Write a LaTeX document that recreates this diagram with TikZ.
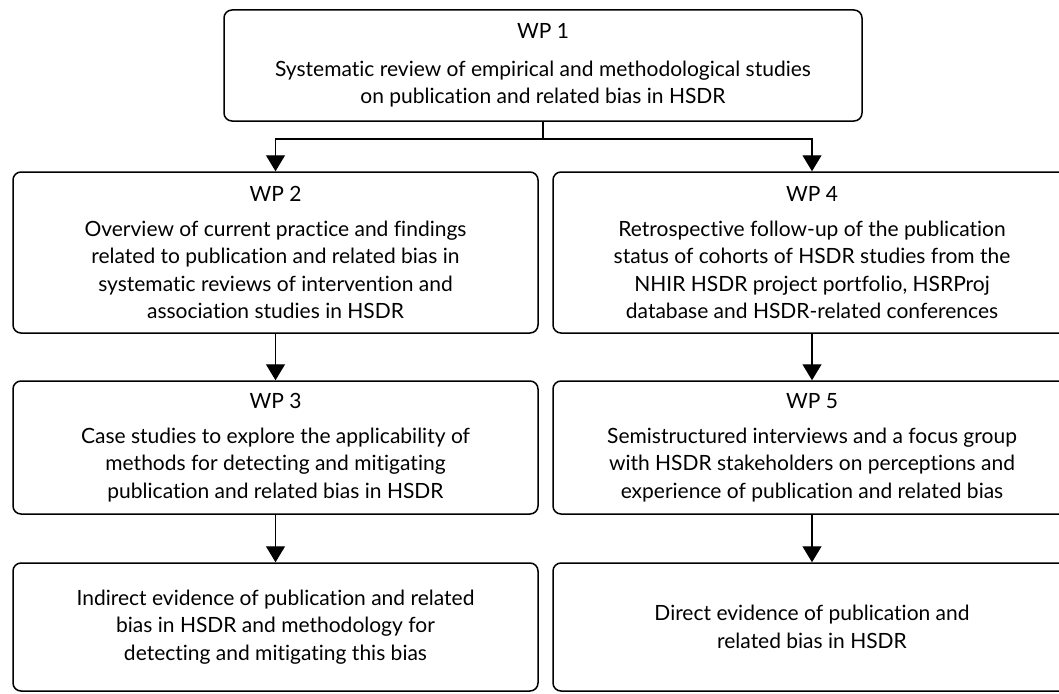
\documentclass[tikz,border=0pt]{standalone}
\usepackage{fontspec}
\setmainfont{Lato}[Ligatures={NoCommon}]
\usetikzlibrary{arrows.meta}
\begin{document}
\begin{tikzpicture}[x=1pt,y=-1pt,
  wpbox/.style={draw, line width=1.5pt, rounded corners=8pt, inner sep=0pt, align=center,
    font=\fontsize{21pt}{27.5pt}\selectfont},
  flow/.style={line width=1.3pt, -{Triangle[width=19pt,length=16pt]}},
  link/.style={line width=1.3pt}]
\clip (0,0) rectangle (1059,693);
\node[wpbox, minimum width=638pt, minimum height=111pt] (wp1) at (543,65.5)
  {WP 1\\[10pt]Systematic review of empirical and methodological studies\\on publication and related bias in HSDR};
\node[wpbox, minimum width=525pt, minimum height=161pt] (wp2) at (275.5,252.5)
  {WP 2\\[7.5pt]Overview of current practice and findings\\related to publication and related bias in\\systematic reviews of intervention and\\association studies in HSDR};
\node[wpbox, minimum width=518pt, minimum height=161pt] (wp4) at (812,252.5)
  {WP 4\\[7.5pt]Retrospective follow-up of the publication\\status of cohorts of HSDR studies from the\\NHIR HSDR project portfolio, HSRProj\\database and HSDR-related conferences};
\node[wpbox, minimum width=525pt, minimum height=133pt] (wp3) at (275.5,447.5)
  {WP 3\\[7.5pt]Case studies to explore the applicability of\\methods for detecting and mitigating\\publication and related bias in HSDR};
\node[wpbox, minimum width=518pt, minimum height=133pt] (wp5) at (812,447.5)
  {WP 5\\[7.5pt]Semistructured interviews and a focus group\\with HSDR stakeholders on perceptions and\\experience of publication and related bias};
\node[wpbox, minimum width=525pt, minimum height=128pt] (out1) at (275.5,627)
  {Indirect evidence of publication and related\\bias in HSDR and methodology for\\detecting and mitigating this bias};
\node[wpbox, minimum width=518pt, minimum height=128pt] (out2) at (812,627)
  {Direct evidence of publication and\\related bias in HSDR};
\coordinate (split) at (543,139);
\draw[link] (wp1.south) -- (split);
\draw[flow] (split) -| (wp2.north);
\draw[flow] (split) -| (wp4.north);
\draw[flow] (wp2.south) -- (wp3.north);
\draw[flow] (wp4.south) -- (wp5.north);
\draw[flow] (wp3.south) -- (out1.north);
\draw[flow] (wp5.south) -- (out2.north);
\end{tikzpicture}
\end{document}
